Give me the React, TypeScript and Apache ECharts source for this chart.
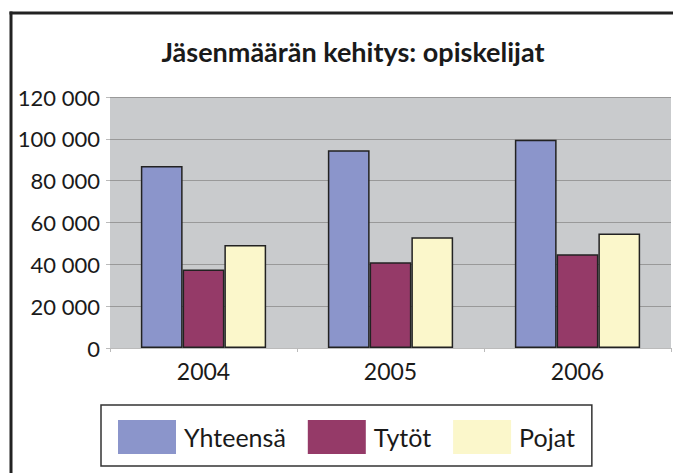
import React, { useEffect, useRef } from "react";
import * as echarts from "echarts";

const categories = ["2004", "2005", "2006"];
const yhteensa = [87000, 94500, 99600];
const tytot = [37500, 41000, 44800];
const pojat = [49200, 52900, 54800];
const seriesNames = ["Yhteensä", "Tytöt", "Pojat"];
const titleText = "Jäsenmäärän kehitys: opiskelijat";

const FONT = "Lato, 'Open Sans', sans-serif";

export default function App() {
  const ref = useRef<HTMLDivElement>(null);
  useEffect(() => {
    if (!ref.current) return;
    const chart = echarts.init(ref.current, undefined, { renderer: "svg" });
    const barStyle = (color: string) => ({
      color,
      borderColor: "#222",
      borderWidth: 1.5,
    });
    chart.setOption({
      animation: false,
      backgroundColor: "#fff",
      title: {
        text: titleText,
        left: 348,
        textAlign: "center",
        top: 33,
        textStyle: { fontFamily: FONT, fontSize: 27, fontWeight: "bold", color: "#1a1a1a" },
      },
      grid: {
        left: 110,
        right: 2,
        top: 97,
        bottom: 125,
        show: true,
        backgroundColor: "#c9cbcd",
        borderWidth: 0,
      },
      legend: {
        left: 101,
        top: 405,
        orient: "horizontal",
        padding: [15, 17, 12, 17],
        borderColor: "#333",
        borderWidth: 1.5,
        itemWidth: 58,
        itemHeight: 34,
        itemGap: 22,
        icon: "rect",
        data: seriesNames,
        itemStyle: { borderWidth: 0 },
        textStyle: { fontFamily: FONT, fontSize: 25, color: "#1a1a1a", padding: [0, 0, 0, 3] },
      },
      xAxis: {
        type: "category",
        data: categories,
        axisLine: { show: true, lineStyle: { color: "#bbb", width: 1 } },
        axisTick: { show: true, length: 4, lineStyle: { color: "#bbb" } },
        axisLabel: { fontFamily: FONT, fontSize: 23, color: "#1a1a1a", margin: 11 },
      },
      yAxis: {
        type: "value",
        min: 0,
        max: 120000,
        interval: 20000,
        axisLine: { show: false },
        axisTick: { show: true, length: 4, lineStyle: { color: "#bbb" } },
        splitLine: { show: true, lineStyle: { color: "#999", width: 1 } },
        axisLabel: {
          fontFamily: FONT,
          fontSize: 22,
          color: "#1a1a1a",
          margin: 10,
          formatter: (v: number) =>
            v === 0 ? "0" : String(v).replace(/\B(?=(\d{3})+(?!\d))/g, " "),
        },
      },
      series: [
        { name: seriesNames[0], type: "bar", data: yhteensa, barCategoryGap: "33%", barGap: "0%", itemStyle: barStyle("#8b95cb") },
        { name: seriesNames[1], type: "bar", data: tytot, barCategoryGap: "33%", barGap: "0%", itemStyle: barStyle("#953a68") },
        { name: seriesNames[2], type: "bar", data: pojat, barCategoryGap: "33%", barGap: "0%", itemStyle: barStyle("#fbf7cb") },
      ],
      graphic: [
        { type: "line", shape: { x1: 9.5, y1: 13, x2: 673, y2: 13 }, style: { stroke: "#222", lineWidth: 3 } },
        { type: "line", shape: { x1: 11, y1: 11.5, x2: 11, y2: 473 }, style: { stroke: "#222", lineWidth: 3 } },
      ],
    });
    return () => chart.dispose();
  }, []);
  return <div ref={ref} style={{ width: 673, height: 473, position: "absolute", left: 0, top: 0 }} />;
}
